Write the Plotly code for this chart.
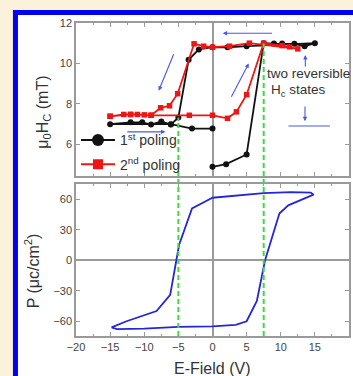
import plotly.graph_objects as go

# ---------------- data ----------------
# 1st poling (black)
E1 = [0, 2, 5, 7.5, 9, 10.2, 12, 13.5, 15, 5, 2.2, 0, -2, -3.5, -5, -6.1, -7.5, -9, -10.3, -12, -15, -6.1, -3, 0]
H1 = [4.88, 5.01, 5.49, 11.0, 10.98, 10.98, 10.97, 10.85, 11.0, 10.85, 10.8, 10.8, 10.69, 10.18, 7.32, 6.97, 7.12, 6.97, 7.08, 7.08, 6.99, 6.99, 6.77, 6.77]
# 2nd poling (red)
E2 = [-15, -13, -12, -11, -9, -3.4, 0, 2.2, 3.5, 5, 7.5, 10.2, 11.3, 12.5, 5.4, 2.5, 0, -1.3, -2.7, -5.1, -6.3, -7.6, -9, -10, -12, -15]
H2 = [7.38, 7.47, 7.47, 7.47, 7.43, 7.43, 7.43, 7.28, 7.6, 8.45, 11.0, 10.88, 10.82, 10.72, 11.0, 10.85, 10.8, 10.85, 10.97, 8.5, 7.9, 7.8, 7.43, 7.45, 7.47, 7.38]
# P-E loop (blue)
E_pe = [-14.8, -14.0, -10, -5, 0, 3.4, 5, 6.5, 7.7, 9.8, 11.1, 13.3, 14.8, 14.4, 11.5, 7.5, 2.4, 0, -1, -3, -4.9, -5.3, -6.2, -8.2, -10.2, -12.6, -14.8]
P_pe = [-66, -67.8, -67.2, -65.5, -65, -63.5, -60, -40, 0, 46, 54, 60.5, 64.5, 66.5, 67, 66, 63, 61.5, 58, 51, 15, 0, -34, -50, -54.5, -60, -66]

legend_names = ["1<sup>st</sup> poling", "2<sup>nd</sup> poling"]
x_ticks = [-20, -15, -10, -5, 0, 5, 10, 15, 20]
coercive_E = [-5, 7.5]          # green dashed guides
coercive_H = [7.32, 11.0]       # where they start in the upper panel

# arrows (tail E, tail H, head E, head H) in the upper panel
arrows = [
    (8.95, 11.49, 1.5, 11.49),
    (2.65, 8.27, 5.31, 10.0),
    (-5.6, 10.53, -7.88, 8.65),
    (13.6, 9.77, 13.6, 10.41),
    (13.55, 7.94, 13.55, 7.14),
    (-12.7, 6.61, -6.9, 6.61),
]
level_line = (11.13, 17.2, 6.9)

# ---------------- layout constants ----------------
Y1_RANGE = [4.42, 12]
Y2_RANGE = [-74.5, 75]
Y1_DOM = [0.511, 1.0]
Y2_DOM = [0.0, 0.4856]

BLACK = "#111111"
RED = "#EE1515"
BLUE = "#2626D6"
ARROW = "#4a5ae0"
GREEN = "#3ddc3d"
AXC = "#9a9a9a"
FONT = "Liberation Sans, Arial, sans-serif"

fig = go.Figure()

fig.add_trace(go.Scatter(x=E1, y=H1, mode="lines+markers", xaxis="x", yaxis="y",
                         line=dict(color=BLACK, width=1.8),
                         marker=dict(symbol="circle", size=6, color=BLACK),
                         showlegend=False))
fig.add_trace(go.Scatter(x=E2, y=H2, mode="lines+markers", xaxis="x", yaxis="y",
                         line=dict(color=RED, width=1.8),
                         marker=dict(symbol="square", size=5.5, color=RED),
                         showlegend=False))
# legend-only entries with larger symbols
fig.add_trace(go.Scatter(x=[None], y=[None], mode="lines+markers", xaxis="x", yaxis="y",
                         line=dict(color=BLACK, width=2),
                         marker=dict(symbol="circle", size=12, color=BLACK),
                         name=legend_names[0], legendgroup="a"))
fig.add_trace(go.Scatter(x=[None], y=[None], mode="lines+markers", xaxis="x", yaxis="y",
                         line=dict(color=RED, width=2),
                         marker=dict(symbol="square", size=10, color=RED),
                         name=legend_names[1], legendgroup="b"))

fig.add_trace(go.Scatter(x=E_pe, y=P_pe, mode="lines", xaxis="x2", yaxis="y2",
                         line=dict(color=BLUE, width=1.8), showlegend=False))


def paper_y(val, rng, dom):
    return dom[0] + (val - rng[0]) / (rng[1] - rng[0]) * (dom[1] - dom[0])


shapes = [
    # outer blue frame with white inside
    dict(type="rect", xref="paper", yref="paper", x0=-0.2218, x1=1.05, y0=-0.18, y1=1.0335,
         line=dict(color="#0000F2", width=5), fillcolor="white", layer="below"),
]
for e, h in zip(coercive_E, coercive_H):
    shapes.append(dict(type="line", xref="x", yref="paper", x0=e, x1=e, y0=0,
                       y1=paper_y(h, Y1_RANGE, Y1_DOM),
                       line=dict(color=GREEN, width=2, dash="5px,3px")))
shapes.append(dict(type="line", xref="x", yref="y", x0=level_line[0], x1=level_line[1],
                   y0=level_line[2], y1=level_line[2], line=dict(color=ARROW, width=1.2)))

annotations = []
for (tx, ty, hx, hy) in arrows:
    annotations.append(dict(x=hx, y=hy, ax=tx, ay=ty, xref="x", yref="y", axref="x", ayref="y",
                            text="", showarrow=True, arrowhead=2, arrowsize=0.8, arrowwidth=1.1,
                            arrowcolor=ARROW))
txt = dict(showarrow=False, xanchor="center", yanchor="middle")
annotations += [
    dict(text="two reversible", x=14.04, y=9.52, xref="x", yref="y",
         font=dict(family=FONT, size=13.5, color="#333"), **txt),
    dict(text="H<sub>c</sub> states", x=12.52, y=8.68, xref="x", yref="y",
         font=dict(family=FONT, size=13.5, color="#333"), **txt),
    dict(text="μ<sub>0</sub>H<sub>C</sub> (mT)", textangle=-90, x=(43 - 76) / 275, y=0.714,
         xref="paper", yref="paper", font=dict(family=FONT, size=16, color="#333"), **txt),
    dict(text="P (μc/cm<sup>2</sup>)", textangle=-90, x=(32 - 76) / 275, y=0.2077,
         xref="paper", yref="paper", font=dict(family=FONT, size=16, color="#333"), **txt),
    dict(text="E-Field (V)", x=0.498, y=-0.1054, xref="paper", yref="paper",
         font=dict(family=FONT, size=16, color="#333"), **txt),
]

axis_common = dict(showline=True, linecolor=AXC, linewidth=1.5, mirror="ticks", ticks="inside",
                   ticklen=4, tickcolor=AXC, showgrid=False,
                   tickfont=dict(family=FONT, size=11, color="#444"))

fig.update_layout(
    width=353, height=376,
    margin=dict(l=76, r=2, t=23, b=40),
    paper_bgcolor="#FCF1DA", plot_bgcolor="white",
    font=dict(family=FONT),
    xaxis=dict(domain=[0, 1], anchor="y", range=[-20, 20], tickvals=x_ticks, showticklabels=False,
               zeroline=True, zerolinecolor=AXC, zerolinewidth=1.5,
               minor=dict(dtick=2.5, ticks="inside", ticklen=2.5, tickcolor=AXC), **axis_common),
    yaxis=dict(domain=Y1_DOM, anchor="x", range=Y1_RANGE, tickvals=[6, 8, 10, 12],
               zeroline=False, **axis_common),
    xaxis2=dict(domain=[0, 1], anchor="y2", range=[-20, 20], tickvals=x_ticks,
                zeroline=True, zerolinecolor=AXC, zerolinewidth=1.5,
                minor=dict(dtick=2.5, ticks="inside", ticklen=2.5, tickcolor=AXC), **axis_common),
    yaxis2=dict(domain=Y2_DOM, anchor="x2", range=Y2_RANGE, tickvals=[-60, -30, 0, 30, 60],
                zeroline=True, zerolinecolor=AXC, zerolinewidth=1.5, **axis_common),
    legend=dict(x=0.0, y=0.676, xanchor="left", yanchor="top", bgcolor="rgba(0,0,0,0)",
                font=dict(family=FONT, size=14, color="#333"), traceorder="grouped",
                tracegroupgap=3, itemwidth=34),
    shapes=shapes,
    annotations=annotations,
)

fig.write_html("out.html")
